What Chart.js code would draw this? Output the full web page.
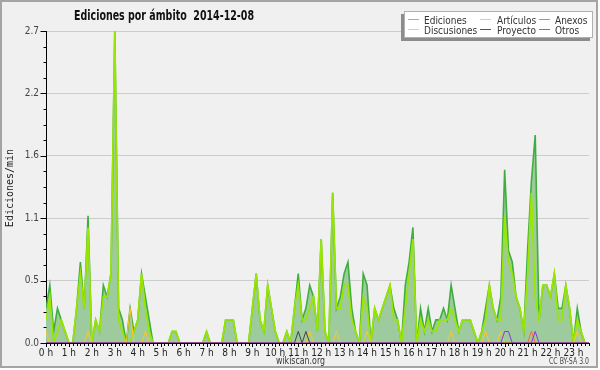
<!DOCTYPE html>
<html><head><meta charset="utf-8">
<script src="https://cdn.jsdelivr.net/npm/chart.js@4"></script>
<style>html,body{margin:0;padding:0;background:#fff;}canvas{display:block;}</style>
</head><body>
<canvas id="c" width="600" height="370"></canvas>
<script>
const chartTitle = 'Ediciones por ámbito  2014-12-08';
const yAxisTitle = 'Ediciones/min';
const hourLabels = ['0 h','1 h','2 h','3 h','4 h','5 h','6 h','7 h','8 h','9 h','10 h','11 h','12 h','13 h','14 h','15 h','16 h','17 h','18 h','19 h','20 h','21 h','22 h','23 h'];
const yTickValues = [0, 0.54, 1.08, 1.62, 2.16, 2.7];
const yTickLabels = ['0.0','0.5','1.1','1.6','2.2','2.7'];
const seriesNames = ['Ediciones','Artículos','Anexos','Discusiones','Proyecto','Otros'];

// one value per 10-minute slot (144 slots), edits per minute
const ediciones = [
 0.3,0.5,0.1,0.3,0.2,0.1,0,0,0.3,0.7,0.3,1.1,
 0,0.2,0.1,0.5,0.4,0.6,2.7,0.3,0.2,0,0.3,0.1,
 0.2,0.6,0.4,0.2,0,0,0,0,0,0.1,0.1,0,
 0,0,0,0,0,0,0.1,0,0,0,0,0.2,
 0.2,0.2,0,0,0,0,0.3,0.6,0.2,0.1,0.5,0.3,
 0.1,0,0,0.1,0,0.3,0.6,0.2,0.3,0.5,0.4,0.1,
 0.9,0.1,0,1.3,0.3,0.4,0.6,0.7,0.3,0.1,0,0.6,
 0.5,0,0.3,0.2,0.3,0.4,0.5,0.3,0.2,0,0.5,0.7,
 1.0,0,0.3,0.1,0.3,0.1,0.2,0.2,0.3,0.2,0.5,0.3,
 0.1,0.2,0.2,0.2,0.1,0,0.1,0.3,0.5,0.3,0.2,0.4,
 1.5,0.8,0.7,0.4,0.3,0.1,0.8,1.4,1.8,0.2,0.5,0.5,
 0.4,0.6,0.3,0.3,0.5,0.3,0,0.3,0.1,0,0,0
];
const articulos = [
 0.2,0.4,0,0.1,0.2,0.1,0,0,0.3,0.6,0.3,1.0,
 0,0.2,0.1,0.4,0.4,0.6,2.7,0.2,0.1,0,0,0.1,
 0.2,0.6,0.3,0.1,0,0,0,0,0,0.1,0.1,0,
 0,0,0,0,0,0,0.1,0,0,0,0,0.2,
 0.2,0.2,0,0,0,0,0.3,0.6,0.2,0.1,0.5,0.3,
 0.1,0,0,0.1,0,0.3,0.5,0.2,0.2,0.3,0.4,0.1,
 0.9,0.1,0,1.3,0.3,0.3,0.5,0.5,0.2,0.1,0,0.4,
 0.3,0,0.3,0.2,0.3,0.4,0.5,0.2,0.2,0,0.3,0.6,
 0.9,0,0.2,0.1,0.2,0.1,0.1,0.2,0.2,0.2,0.3,0.2,
 0.1,0.2,0.2,0.2,0.1,0,0.1,0.2,0.5,0.3,0.2,0.2,
 1.1,0.7,0.6,0.4,0.3,0.1,0.6,1.3,0.4,0.2,0.5,0.5,
 0.4,0.6,0.2,0.2,0.5,0.3,0,0.2,0.1,0,0,0
];
const anexos = [
 0,0,0,0,0,0,0,0,0,0,0,0,
 0,0,0,0,0,0,0,0,0,0,0,0,
 0,0,0,0,0,0,0,0,0,0,0,0,
 0,0,0,0,0,0,0,0,0,0,0,0,
 0,0,0,0,0,0,0,0,0,0,0,0,
 0,0,0,0,0,0,0,0,0,0,0,0,
 0,0,0,0,0,0,0,0,0,0,0,0,
 0,0,0,0,0,0,0,0,0,0,0,0,
 0,0,0,0,0,0,0,0,0,0,0,0,
 0,0,0,0,0,0,0,0,0,0,0,0,
 0,0,0,0,0,0,0,0.1,0,0,0,0,
 0,0,0,0,0,0,0,0,0,0,0,0
];
const discusiones = [
 0.1,0,0,0,0,0,0,0,0,0,0,0.1,
 0,0,0,0,0,0,0,0,0,0,0.3,0,
 0,0,0.1,0,0,0,0,0,0,0,0,0,
 0,0,0,0,0,0,0,0,0,0,0,0,
 0,0,0,0,0,0,0,0,0,0,0,0,
 0,0,0,0,0,0,0,0,0,0.1,0,0,
 0,0,0,0,0.1,0,0,0,0,0,0,0,
 0.1,0,0,0,0,0,0,0,0,0,0,0,
 0,0,0,0,0,0,0,0,0,0,0.1,0,
 0,0,0,0,0,0,0,0.1,0,0,0,0.1,
 0,0,0,0,0,0,0,0,0,0,0,0,
 0,0,0,0,0,0,0,0.1,0,0,0,0
];
const proyecto = [
 0,0,0,0,0,0,0,0,0,0,0,0,
 0,0,0,0,0,0,0,0,0,0,0,0,
 0,0,0,0,0,0,0,0,0,0,0,0,
 0,0,0,0,0,0,0,0,0,0,0,0,
 0,0,0,0,0,0,0,0,0,0,0,0,
 0,0,0,0,0,0,0.1,0,0.1,0,0,0,
 0,0,0,0,0,0,0,0,0,0,0,0,
 0,0,0,0,0,0,0,0,0,0,0,0,
 0,0,0,0,0,0,0,0,0,0,0,0,
 0,0,0,0,0,0,0,0,0,0,0,0,
 0,0,0,0,0,0,0,0,0,0,0,0,
 0,0,0,0,0,0,0,0,0,0,0,0
];
const otros = [
 0,0,0,0,0,0,0,0,0,0,0,0,
 0,0,0,0,0,0,0,0,0,0,0,0,
 0,0,0,0,0,0,0,0,0,0,0,0,
 0,0,0,0,0,0,0,0,0,0,0,0,
 0,0,0,0,0,0,0,0,0,0,0,0,
 0,0,0,0,0,0,0,0,0,0,0,0,
 0,0,0,0,0,0,0,0,0,0,0,0,
 0,0,0,0,0,0,0,0,0,0,0,0,
 0,0,0,0,0,0,0,0,0,0,0,0,
 0,0,0,0,0,0,0,0,0,0,0,0,
 0.1,0.1,0,0,0,0,0,0,0.1,0,0,0,
 0,0,0,0,0,0,0,0,0,0,0,0
];

const SLOTS_PER_HOUR = 6;
const toPts = a => a.map((v, i) => ({x: i, y: v}));
const seriesData = [ediciones, articulos, anexos, discusiones, proyecto, otros];
const seriesColors = ['#3fae3f', '#9be600', '#ff6a2a', '#ffc81e', '#444444', '#8a33ee'];
const legendColors = ['#77cc77', '#c4ee30', '#ff7840', '#ffd030', '#555555', '#9b4dff'];
const seriesOrder = [6, 5, 3, 4, 2, 1];
const seriesWidth = [1.6, 1.7, 1, 1, 1, 1];

const FONT = "'DejaVu Sans Condensed','DejaVu Sans',sans-serif";

function condensedText(ctx, text, x, y, font, width, align) {
  ctx.save();
  ctx.font = font;
  const w = ctx.measureText(text).width;
  const s = width ? width / w : 1;
  let x0 = x;
  if (align === 'center') x0 = x - w * s / 2;
  else if (align === 'right') x0 = x - w * s;
  ctx.translate(x0, y);
  ctx.scale(s, 1);
  ctx.textAlign = 'left';
  ctx.fillText(text, 0, 0);
  ctx.restore();
}

const decor = {
  id: 'decor',
  beforeDraw(chart) {
    const ctx = chart.ctx;
    ctx.save();
    ctx.fillStyle = '#ffffff';
    ctx.fillRect(0, 0, chart.width, chart.height);
    ctx.fillStyle = '#f0f0f0';
    ctx.fillRect(1, 1, 596, 366);
    ctx.strokeStyle = '#a4a4a4';
    ctx.lineWidth = 2;
    ctx.strokeRect(1, 1, 596, 366);
    ctx.restore();
  },
  afterDraw(chart) {
    const ctx = chart.ctx;
    const xs = chart.scales.x, ys = chart.scales.y;
    const area = chart.chartArea;
    ctx.save();
    // minor / major ticks
    ctx.strokeStyle = '#000';
    ctx.lineWidth = 1;
    ctx.beginPath();
    const ax = Math.round(area.left) + 0.5;
    for (let k = 0; k <= 20; k++) {
      const y = Math.round(ys.getPixelForValue(k * 0.135)) + 0.5;
      const len = k % 4 === 0 ? 6 : 3;
      ctx.moveTo(ax - len, y); ctx.lineTo(ax, y);
    }
    const by = Math.round(area.bottom);
    for (let i = 0; i < seriesData[0].length; i++) {
      const x = Math.round(xs.getPixelForValue(i)) + 0.5;
      if (x > area.right + 1) break;
      const len = i % SLOTS_PER_HOUR === 0 ? 4 : 3;
      ctx.moveTo(x, by); ctx.lineTo(x, by + len);
    }
    ctx.stroke();

    // title
    ctx.fillStyle = '#111';
    ctx.textBaseline = 'alphabetic';
    condensedText(ctx, chartTitle, 74, 20, "bold 14px 'DejaVu Sans',sans-serif", 180, 'left');

    // y axis title
    ctx.save();
    ctx.translate(10, 188);
    ctx.rotate(-Math.PI / 2);
    ctx.font = "10px 'DejaVu Sans Mono',monospace";
    ctx.textAlign = 'center';
    ctx.textBaseline = 'middle';
    ctx.fillStyle = '#222';
    ctx.fillText(yAxisTitle, 0, 0);
    ctx.restore();

    // legend box
    const bx = 404, byy = 11, bw = 189, bh = 27;
    ctx.fillStyle = '#8c8c8c';
    ctx.fillRect(bx - 3, byy + 3, bw, bh);
    ctx.fillStyle = '#ffffff';
    ctx.fillRect(bx, byy, bw, bh);
    ctx.strokeStyle = '#b0b0b0';
    ctx.lineWidth = 1;
    ctx.strokeRect(bx + 0.5, byy + 0.5, bw - 1, bh - 1);
    const lineX = [408, 480, 539], textX = [424, 497, 555];
    const rowLineY = [19.5, 29.5], rowBase = [23.5, 33.5];
    const lfont = "10.5px 'DejaVu Sans',sans-serif";
    ctx.font = lfont;
    const lf = 42.7 / ctx.measureText('Ediciones').width;
    chart.data.datasets.forEach((ds, k) => {
      const r = Math.floor(k / 3), c = k % 3;
      ctx.strokeStyle = legendColors[k];
      ctx.lineWidth = 1;
      ctx.beginPath();
      ctx.moveTo(lineX[c], rowLineY[r]); ctx.lineTo(lineX[c] + 11, rowLineY[r]);
      ctx.stroke();
      ctx.fillStyle = '#333';
      ctx.font = lfont;
      const w = ctx.measureText(ds.label).width * lf;
      condensedText(ctx, ds.label, textX[c], rowBase[r], lfont, w, 'left');
    });

    // footer
    ctx.fillStyle = '#333';
    condensedText(ctx, 'wikiscan.org', 300.5, 364, "10px 'DejaVu Sans',sans-serif", 49, 'center');
    ctx.fillStyle = '#444';
    condensedText(ctx, 'CC BY-SA 3.0', 589, 364, "8px 'DejaVu Sans',sans-serif", 40, 'right');
    ctx.restore();
  }
};

new Chart(document.getElementById('c'), {
  type: 'line',
  data: {
    datasets: seriesNames.map((name, k) => ({
      label: name,
      data: toPts(seriesData[k]),
      borderColor: seriesColors[k],
      backgroundColor: k === 0 ? '#9ecb9e' : seriesColors[k],
      fill: k === 0 ? 'origin' : false,
      borderWidth: seriesWidth[k],
      pointRadius: 0,
      tension: 0,
      order: seriesOrder[k]
    }))
  },
  options: {
    responsive: false,
    animation: false,
    devicePixelRatio: 1,
    layout: {padding: {top: 31, right: 11, left: 0, bottom: 0}},
    plugins: {legend: {display: false}, title: {display: false}, tooltip: {enabled: false}},
    scales: {
      x: {
        type: 'linear', min: 0, max: 142.07,
        z: 1,
        grid: {drawOnChartArea: false, drawTicks: false},
        border: {display: true, color: '#000', width: 1},
        afterBuildTicks: s => { s.ticks = hourLabels.map((_, h) => ({value: h * SLOTS_PER_HOUR})); },
        afterFit: s => { s.height = 27; },
        ticks: {
          autoSkip: false, maxRotation: 0, padding: 4, color: '#222',
          font: {family: FONT, size: 10},
          callback: v => hourLabels[Math.round(v / SLOTS_PER_HOUR)]
        }
      },
      y: {
        type: 'linear', min: 0, max: 2.7,
        grid: {color: '#cccccc', drawTicks: false, lineWidth: 1},
        border: {display: true, color: '#000', width: 1},
        afterBuildTicks: s => { s.ticks = yTickValues.map(v => ({value: v})); },
        afterFit: s => { s.width = 46; },
        ticks: {
          padding: 7, color: '#444',
          font: {family: FONT, size: 10},
          callback: (v, i) => yTickLabels[i]
        }
      }
    }
  },
  plugins: [decor]
});
</script>
</body></html>
